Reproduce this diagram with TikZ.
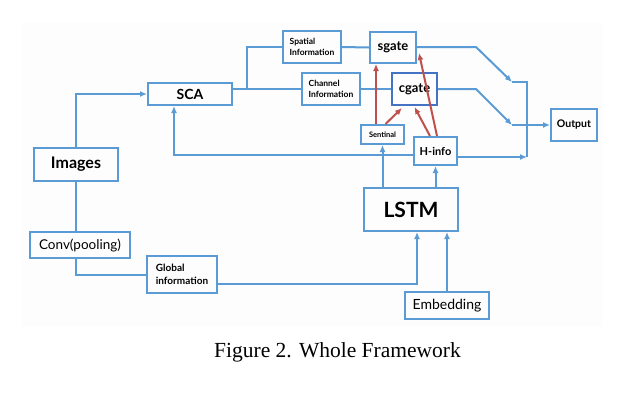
\documentclass[tikz,border=0pt]{standalone}
\usepackage{fontspec}
\setmainfont{Lato}
\newfontfamily\capfont{Liberation Serif}
\usetikzlibrary{arrows.meta}
\definecolor{lineblue}{HTML}{5B9BD5}
\definecolor{darkblue}{HTML}{4472C4}
\definecolor{gatered}{HTML}{C0504D}
\tikzset{
  box/.style={draw=lineblue, line width=2pt, inner sep=0pt, align=center},
  link/.style={draw=lineblue, line width=2pt},
  arr/.style={link, -{Latex[length=7pt,width=6pt]}},
  redarr/.style={draw=gatered, line width=2pt, -{Latex[length=7pt,width=6pt]}}
}
\begin{document}
\begin{tikzpicture}[x=1pt, y=-1pt]
  \useasboundingbox (0,0) rectangle (636,408);
  \fill[black!0.6] (22,23) rectangle (603,327);
  % boxes
  \node[box, minimum width=84pt, minimum height=33pt, font=\fontsize{16}{18}\selectfont\bfseries] (images) at (76,164.5) {Images};
  \node[box, minimum width=84pt, minimum height=22pt, font=\fontsize{14}{16}\selectfont\bfseries] (sca) at (190,94) {SCA};
  \node[box, minimum width=58pt, minimum height=32pt, font=\fontsize{8.5}{11}\selectfont\bfseries, align=left] (spatial) at (312,47) {Spatial\\Information};
  \node[box, minimum width=58pt, minimum height=32pt, font=\fontsize{8.5}{11}\selectfont\bfseries, align=left] (channel) at (331,89) {Channel\\Information};
  \node[box, minimum width=46pt, minimum height=31pt, font=\fontsize{13}{15}\selectfont\bfseries] (sgate) at (393,47.5) {sgate};
  \node[box, draw=darkblue, minimum width=45pt, minimum height=32pt, font=\fontsize{13}{15}\selectfont\bfseries] (cgate) at (414.5,89) {cgate};
  \node[box, minimum width=43pt, minimum height=19pt, font=\fontsize{7.5}{9}\selectfont\bfseries] (sentinal) at (382.5,134.5) {Sentinal};
  \node[box, minimum width=43pt, minimum height=28pt, font=\fontsize{11}{13}\selectfont\bfseries] (hinfo) at (435.5,151) {H-info};
  \node[box, minimum width=46pt, minimum height=32pt, font=\fontsize{10.5}{13}\selectfont\bfseries] (output) at (574,125) {Output};
  \node[box, minimum width=94pt, minimum height=43pt, font=\fontsize{21}{24}\selectfont\bfseries] (lstm) at (411,209.5) {LSTM};
  \node[box, minimum width=100pt, minimum height=26pt, font=\fontsize{13.5}{16}\selectfont] (conv) at (80,245) {Conv(pooling)};
  \node[box, minimum width=70pt, minimum height=37pt, font=\fontsize{10}{13}\selectfont\bfseries, align=left] (global) at (182,274.5) {Global\\information};
  \node[box, minimum width=84pt, minimum height=27pt, font=\fontsize{14}{16}\selectfont] (embed) at (447,305.5) {Embedding};
  \node[font=\capfont\fontsize{21.5}{25}\selectfont] (caption) at (337.5,352) {Figure 2. Whole Framework};
  % bends
  \coordinate (split) at (247,89);
  \coordinate (sbend) at (476,47);
  \coordinate (sin) at (512,82);
  \coordinate (cbend) at (476,89);
  \coordinate (cin) at (512,125);
  \coordinate (bartop) at (527,82);
  \coordinate (barbot) at (527,157);
  \coordinate (back) at (174,155);
  \coordinate (glob) at (417,284);
  % blue links
  \draw[arr] (images.north) |- (sca.west);
  \draw[link] (sca.east |- channel.west) -- (channel.west);
  \draw[link] (split) |- (spatial.west);
  \draw[link] (spatial.east) -- (sgate.west);
  \draw[link] (channel.east) -- (cgate.west);
  \draw[arr] (sgate.east |- sbend) -- (sbend) -- (sin);
  \draw[arr] (cgate.east) -- (cbend) -- (cin);
  \draw[link] (sin) -- (bartop) -- (barbot);
  \draw[arr] (hinfo.east |- barbot) -- (barbot);
  \draw[arr] (cin) -- (output.west);
  \draw[arr] (hinfo.west |- back) -- (back) -- (back |- sca.south);
  \draw[arr] (sentinal.south |- lstm.north) -- (sentinal.south);
  \draw[arr] (hinfo.south |- lstm.north) -- (hinfo.south);
  \draw[link] (images.south) -- (images.south |- conv.north);
  \draw[link] (images.south |- conv.south) |- (global.west);
  \draw[arr] (global.east |- glob) -- (glob) -- (glob |- lstm.south);
  \draw[arr] (embed.north) -- (embed.north |- lstm.south);
  % red links
  \draw[redarr] ([xshift=-6.5pt]sentinal.north) -- ([xshift=-17pt]sgate.south);
  \draw[redarr] ([xshift=3pt]sentinal.north) -- ([xshift=-12.5pt,yshift=-2pt]cgate.south);
  \draw[redarr] ([xshift=-5.5pt]hinfo.north) -- ([yshift=-1pt]cgate.south);
  \draw[redarr] ([xshift=1.5pt]hinfo.north) -- ([shift={(2pt,-5.5pt)}]sgate.east);
\end{tikzpicture}
\end{document}
